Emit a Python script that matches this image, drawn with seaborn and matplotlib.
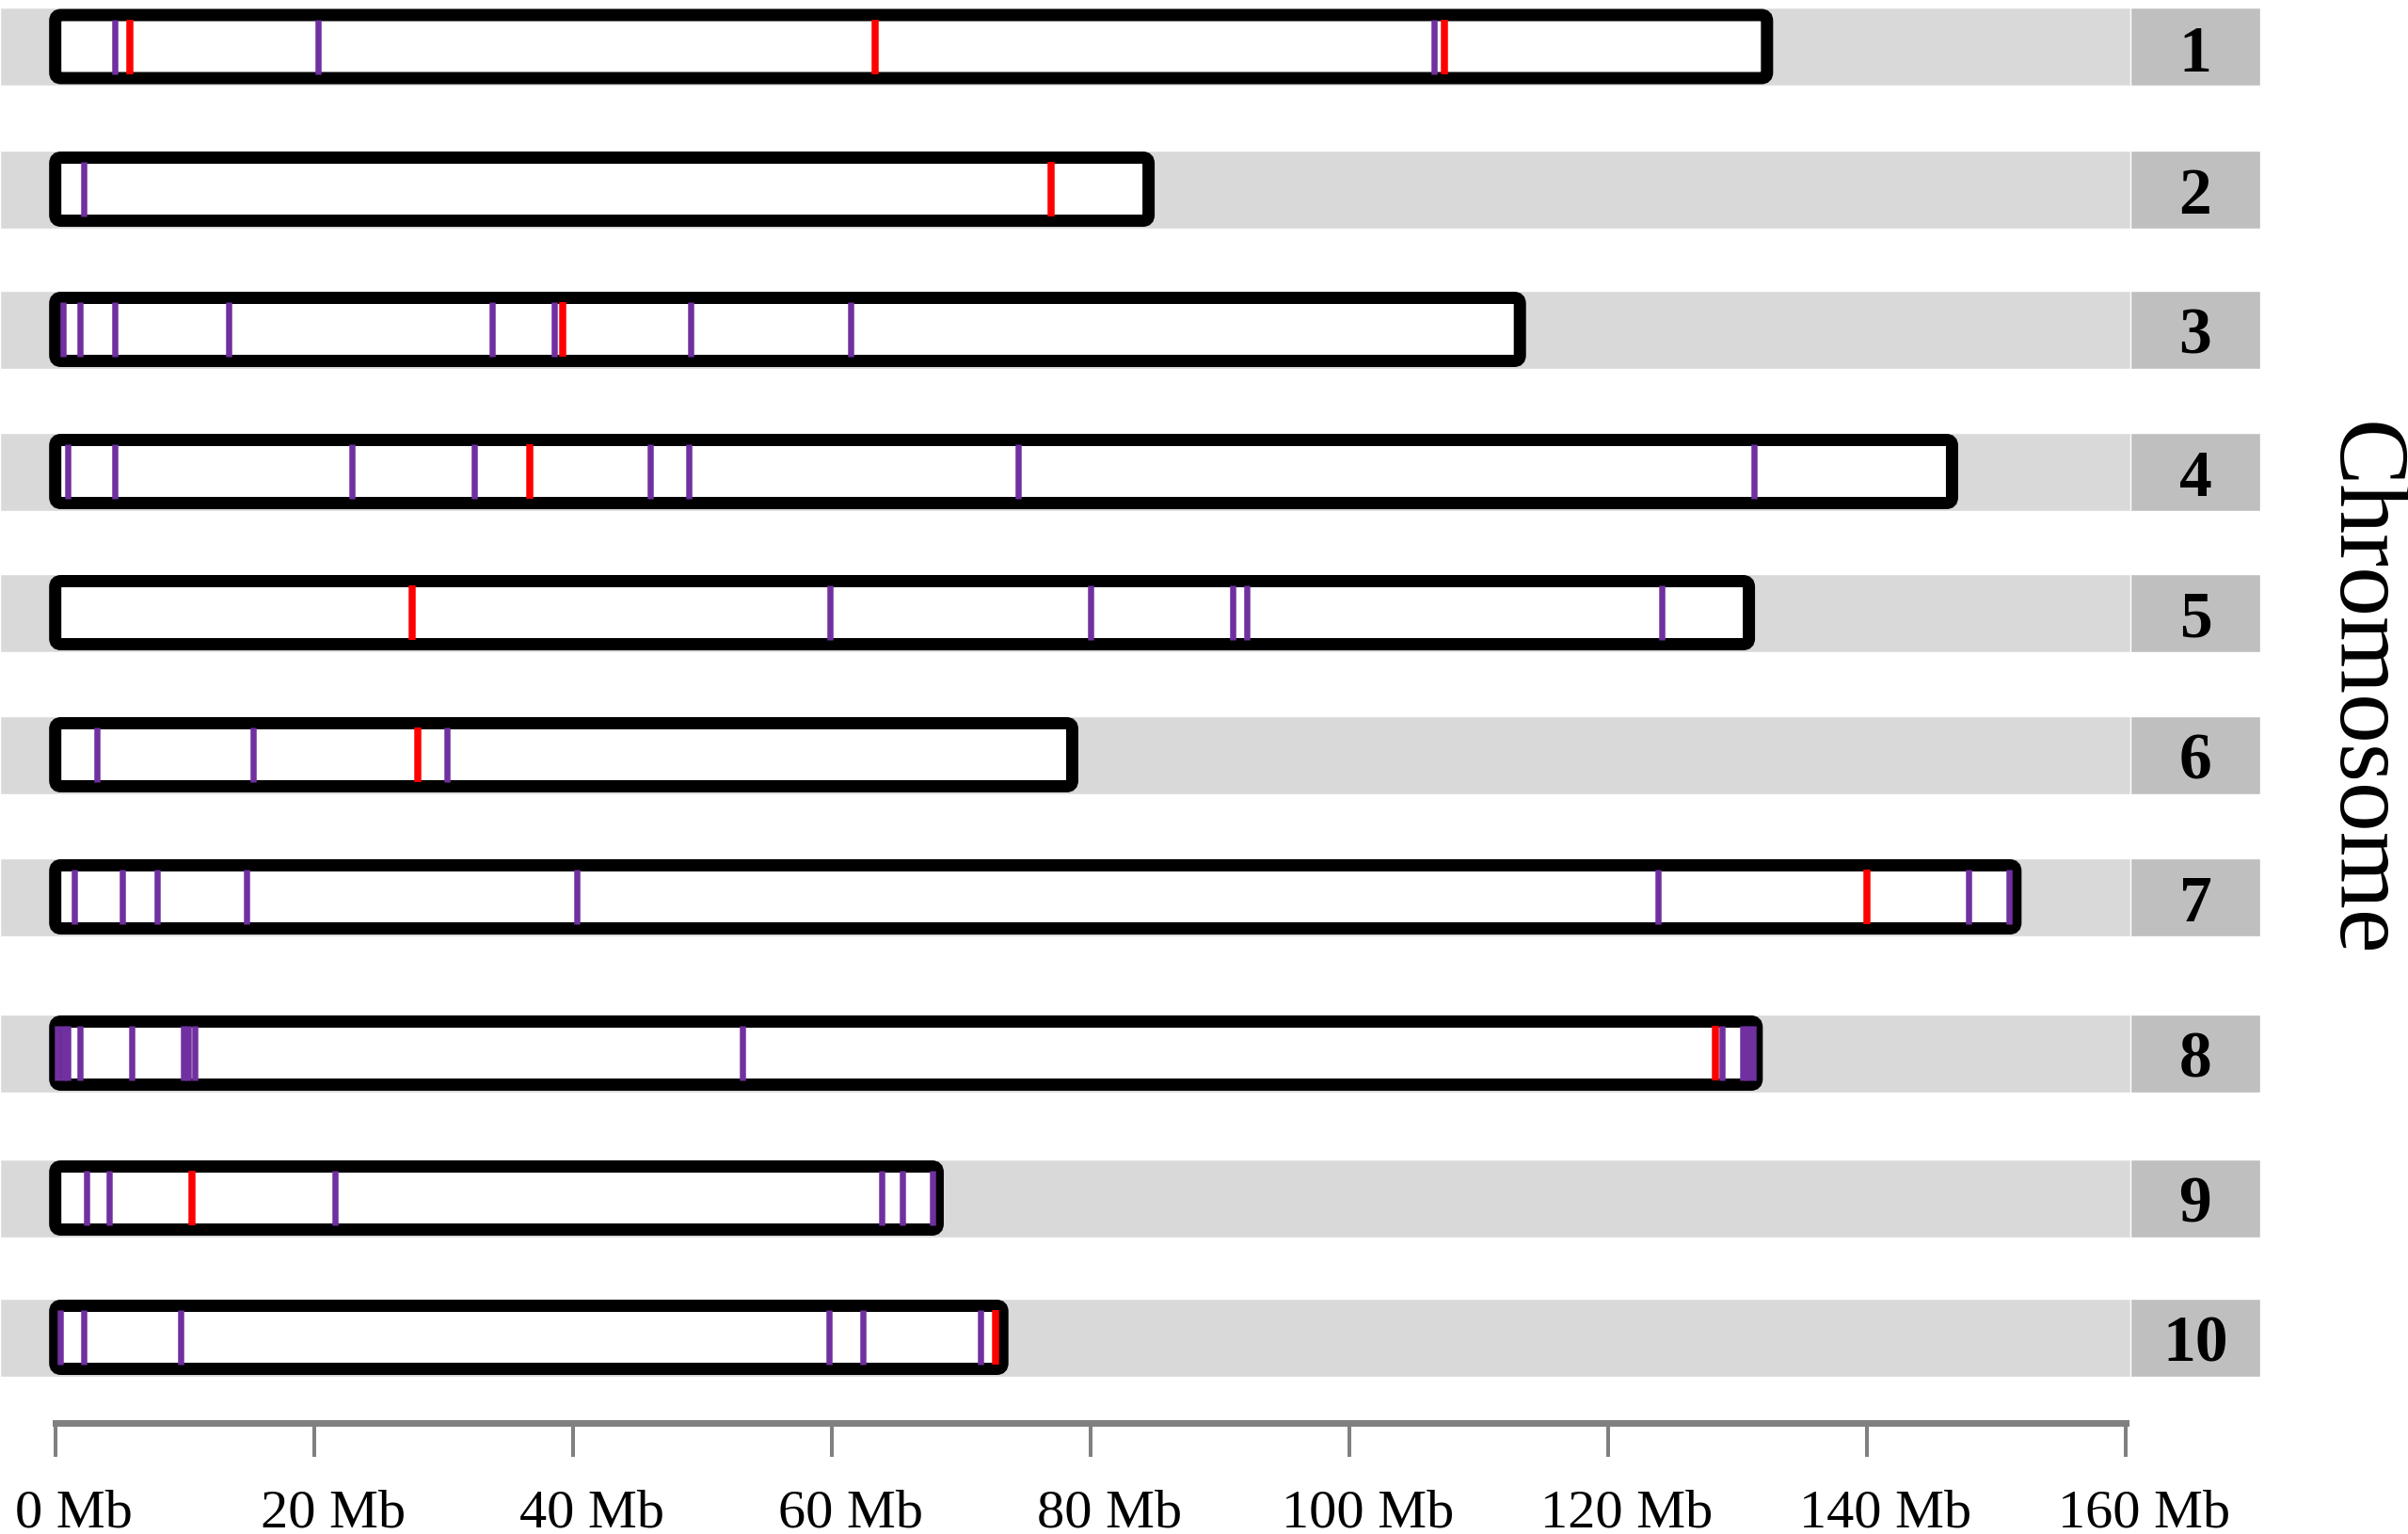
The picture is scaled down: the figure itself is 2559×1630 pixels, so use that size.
import warnings
import numpy as np
import pandas as pd
import matplotlib
matplotlib.use("Agg")
import matplotlib.pyplot as plt
from matplotlib.patches import FancyBboxPatch
from matplotlib.transforms import ScaledTranslation
import seaborn as sns

warnings.filterwarnings("ignore")

# chromosome names and lengths (Mb)
chromosomes = ["1", "2", "3", "4", "5", "6", "7", "8", "9", "10"]
chrom_length = [132.3, 84.5, 113.2, 146.6, 130.9, 78.6, 151.5, 131.5, 68.2, 73.2]

# purple markers (Mb) per chromosome
purple_pos = {
    "1": [4.6, 20.3, 106.6],
    "2": [2.2],
    "3": [0.6, 1.9, 4.6, 13.4, 33.8, 38.6, 49.1, 61.5],
    "4": [1.0, 4.6, 22.9, 32.4, 46.0, 49.0, 74.4, 131.3],
    "5": [59.9, 80.0, 91.0, 92.1, 124.2],
    "6": [3.2, 15.3, 30.3],
    "7": [1.5, 5.2, 7.9, 14.8, 40.3, 123.9, 147.9, 151.0],
    "8": [0.2, 0.6, 1.0, 1.9, 5.9, 9.9, 10.3, 10.8, 53.1, 128.8, 130.4, 130.8, 131.2],
    "9": [2.4, 4.2, 21.6, 63.9, 65.5, 67.8],
    "10": [0.4, 2.2, 9.7, 59.8, 62.4, 71.5],
}

# red markers (Mb) per chromosome
red_pos = {
    "1": [5.8, 63.4, 107.4],
    "2": [77.0],
    "3": [39.2],
    "4": [36.7],
    "5": [27.6],
    "6": [28.0],
    "7": [140.0],
    "8": [128.3],
    "9": [10.6],
    "10": [72.7],
}

# scale bar ticks
tick_mb = [0, 20, 40, 60, 80, 100, 120, 140, 160]
tick_labels = [f"{t} Mb" for t in tick_mb]

# layout (figure pixels, y downwards)
W, H = 2559, 1631
PX_PER_MB = 13.75
X0_PX = 58.7
row_y = [50.5, 202, 351, 502, 652, 803, 954, 1120, 1274, 1422]
BAND_HALF = 41.5
BOX_HALF = 33.5
MARK_HALF = 28.8
LABEL_LEFT, LABEL_RIGHT = 160.4, 170.4
AXIS_Y = 1513

PURPLE = "#7030A0"
RED = "#FF0000"

sns.set_style("white")
plt.rcParams["font.family"] = ["Liberation Serif", "DejaVu Serif"]

fig = plt.figure(figsize=(W / 100, H / 100), dpi=100)
ax = fig.add_axes([0, 0, 1, 1])
px = 0.72  # points per pixel

xmin = -X0_PX / PX_PER_MB
xmax = (W - X0_PX) / PX_PER_MB

# grey background bands and label boxes
ax.barh(row_y, LABEL_RIGHT - xmin, left=xmin, height=2 * BAND_HALF,
        color="#d9d9d9", zorder=1)
ax.barh(row_y, LABEL_RIGHT - LABEL_LEFT, left=LABEL_LEFT, height=2 * BAND_HALF,
        color="#bfbfbf", zorder=1.5)

# chromosome outlines
for name, length, yc in zip(chromosomes, chrom_length, row_y):
    box = FancyBboxPatch((0, yc - BOX_HALF), length, 2 * BOX_HALF,
                         boxstyle="round,pad=0,rounding_size=0.45",
                         mutation_aspect=PX_PER_MB,
                         facecolor="white", edgecolor="black",
                         linewidth=13 * px, zorder=3)
    ax.add_patch(box)
    ax.text((LABEL_LEFT + LABEL_RIGHT) / 2, yc + 25, name, ha="center",
            va="baseline", fontsize=50, fontweight="bold", color="black", zorder=4)

# markers table
rows = []
for name, yc in zip(chromosomes, row_y):
    for p in purple_pos[name]:
        rows.append({"chrom": name, "pos": p, "y": yc, "kind": "purple"})
    for p in red_pos[name]:
        rows.append({"chrom": name, "pos": p, "y": yc, "kind": "red"})
markers = pd.DataFrame(rows)

# marker stroke widths in pixels
mark_width = {"purple": 6.5, "red": 7.5}
for kind, color in [("purple", PURPLE), ("red", RED)]:
    sns.scatterplot(data=markers[markers["kind"] == kind], x="pos", y="y",
                    color=color, marker="|", s=(2 * MARK_HALF * px) ** 2,
                    linewidth=mark_width[kind] * px, legend=False, ax=ax, zorder=5)

ax.set_xlim(xmin, xmax)
ax.set_ylim(H, 0)
ax.set_xlabel("")
ax.set_ylabel("")

# scale bar as the real x axis
for side in ["top", "left", "right"]:
    ax.spines[side].set_visible(False)
ax.spines["bottom"].set_position(("data", AXIS_Y))
ax.spines["bottom"].set_bounds(tick_mb[0], tick_mb[-1])
ax.spines["bottom"].set_color("#808080")
ax.spines["bottom"].set_linewidth(7 * px)
ax.set_yticks([])
ax.set_xticks(tick_mb)
ax.set_xticklabels(tick_labels)
ax.tick_params(axis="x", direction="out", length=36 * px, width=4 * px,
               color="#808080", labelsize=42, labelcolor="black", pad=24, bottom=True)
offset = ScaledTranslation(0.2, 0, fig.dpi_scale_trans)
for lab in ax.get_xticklabels():
    lab.set_transform(lab.get_transform() + offset)

ax.text((2508 - X0_PX) / PX_PER_MB, 732, "Chromosome", rotation=270,
        ha="center", va="center", fontsize=76, color="black")

fig.savefig("out.png", dpi=100)
